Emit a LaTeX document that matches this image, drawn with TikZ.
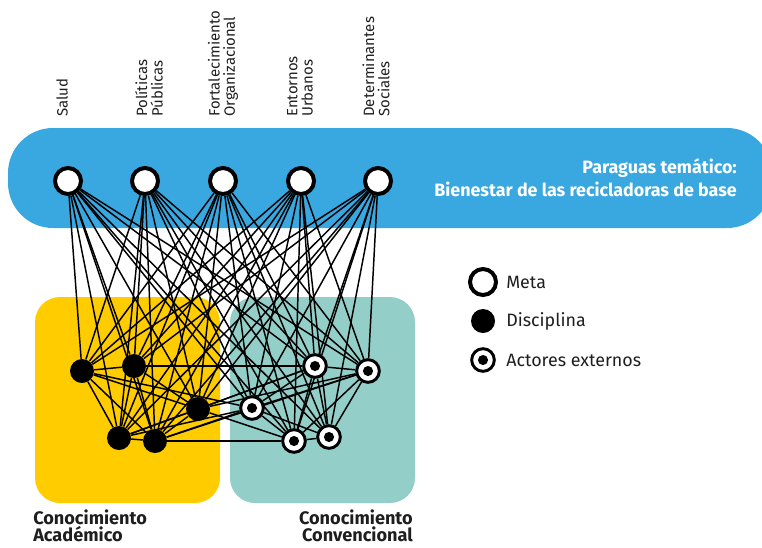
\documentclass[tikz,border=0pt]{standalone}
\usepackage{fontspec}
\setmainfont{Fira Sans}
\definecolor{bandblue}{RGB}{58,168,224}
\definecolor{acadyellow}{RGB}{255,204,0}
\definecolor{convteal}{RGB}{148,206,200}
\definecolor{inkgray}{RGB}{30,30,30}
\pgfdeclarelayer{bg}
\pgfdeclarelayer{edges}
\pgfsetlayers{bg,edges,main}
\begin{document}
\begin{tikzpicture}[x=0.75pt,y=-0.75pt,
  metanode/.style={circle,draw=black,fill=white,line width=3pt,minimum size=19.5pt,inner sep=0pt},
  discnode/.style={circle,fill=black,minimum size=18pt,inner sep=0pt},
  actnode/.style={circle,draw=black,fill=white,line width=2.2pt,minimum size=17pt,inner sep=0pt,
    path picture={\fill[black] (path picture bounding box.center) circle (3.8pt);}},
  link/.style={line width=1.1pt,black},
  toplabel/.style={rotate=90,anchor=west,align=left,font=\fontsize{11.2}{11.5}\selectfont,inner sep=0pt,text=inkgray},
  legtext/.style={anchor=west,inner sep=0pt,font=\fontsize{13.4}{14}\selectfont,text=inkgray},
  grouplabel/.style={inner sep=0pt,font=\bfseries\fontsize{13.6}{13}\selectfont,text=inkgray}]
\useasboundingbox (0,0) rectangle (762,547);

\begin{pgfonlayer}{bg}
  \begin{scope}
    \clip (0,0) rectangle (762,547);
    \fill[bandblue, rounded corners=33.75pt] (8,128) rectangle (772,228);
  \end{scope}
  \fill[acadyellow, rounded corners=18.75pt] (35,297) rectangle (220,503);
  \fill[convteal, rounded corners=18.75pt] (230,297) rectangle (415,503);
\end{pgfonlayer}

% top labels
\node[toplabel] (t1) at (62,117) {Salud};
\node[toplabel] (t2) at (149,117) {Políticas\\Públicas};
\node[toplabel] (t3) at (223,117) {Fortalecimiento\\Organizacional};
\node[toplabel] (t4) at (300,117) {Entornos\\Urbanos};
\node[toplabel] (t5) at (376,117) {Determinantes\\Sociales};

% band title
\node[anchor=east,align=right,inner sep=0pt,text=white,font=\bfseries\fontsize{13.4}{17}\selectfont] (title) at (737,178)
  {Paraguas temático:\\Bienestar de las recicladoras de base};

% meta nodes
\node[metanode] (M1) at (68,181) {};
\node[metanode] (M2) at (145,181) {};
\node[metanode] (M3) at (223,181) {};
\node[metanode] (M4) at (301,181) {};
\node[metanode] (M5) at (378,181) {};

% disciplines
\node[discnode] (D1) at (82,371) {};
\node[discnode] (D2) at (134,366) {};
\node[discnode] (D3) at (198,409) {};
\node[discnode] (D4) at (119,438) {};
\node[discnode] (D5) at (155,441) {};

% external actors
\node[actnode] (A1) at (315,366) {};
\node[actnode] (A2) at (368,371) {};
\node[actnode] (A3) at (252,408) {};
\node[actnode] (A4) at (294,441) {};
\node[actnode] (A5) at (329,437) {};

\begin{pgfonlayer}{edges}
  \foreach \m in {M1,M2,M3,M4,M5}
    \foreach \b in {D1,D2,D3,D4,D5,A1,A2,A3,A4,A5}
      \draw[link] (\m) -- (\b);
  \foreach \p/\q in {D1/D2,D1/D4,D1/D5,D1/D3,D2/D4,D2/D5,D2/D3,D3/D4,D3/D5,D4/D5,
                     D2/A1,D5/A4,D3/A1,D3/A2,D4/A3,D5/A3,D3/A4,D1/A3,D4/A1,D5/A2,
                     A1/A2,A1/A3,A1/A4,A1/A5,A2/A3,A2/A4,A2/A5,A3/A4,A3/A5,A4/A5}
    \draw[link] (\p) -- (\q);
\end{pgfonlayer}

% legend
\node[metanode] (lm) at (483,282) {};
\node[discnode] (ld) at (483,321) {};
\node[actnode] (la) at (483,360) {};
\node[legtext] (lmt) at (506,282) {Meta};
\node[legtext] (ldt) at (506,321) {Disciplina};
\node[legtext] (lat) at (506,360) {Actores externos};

% group labels
\node[grouplabel,anchor=west,align=left] (ga) at (33,526) {Conocimiento\\Académico};
\node[grouplabel,anchor=east,align=right] (gc) at (413,526) {Conocimiento\\Convencional};
\end{tikzpicture}
\end{document}
